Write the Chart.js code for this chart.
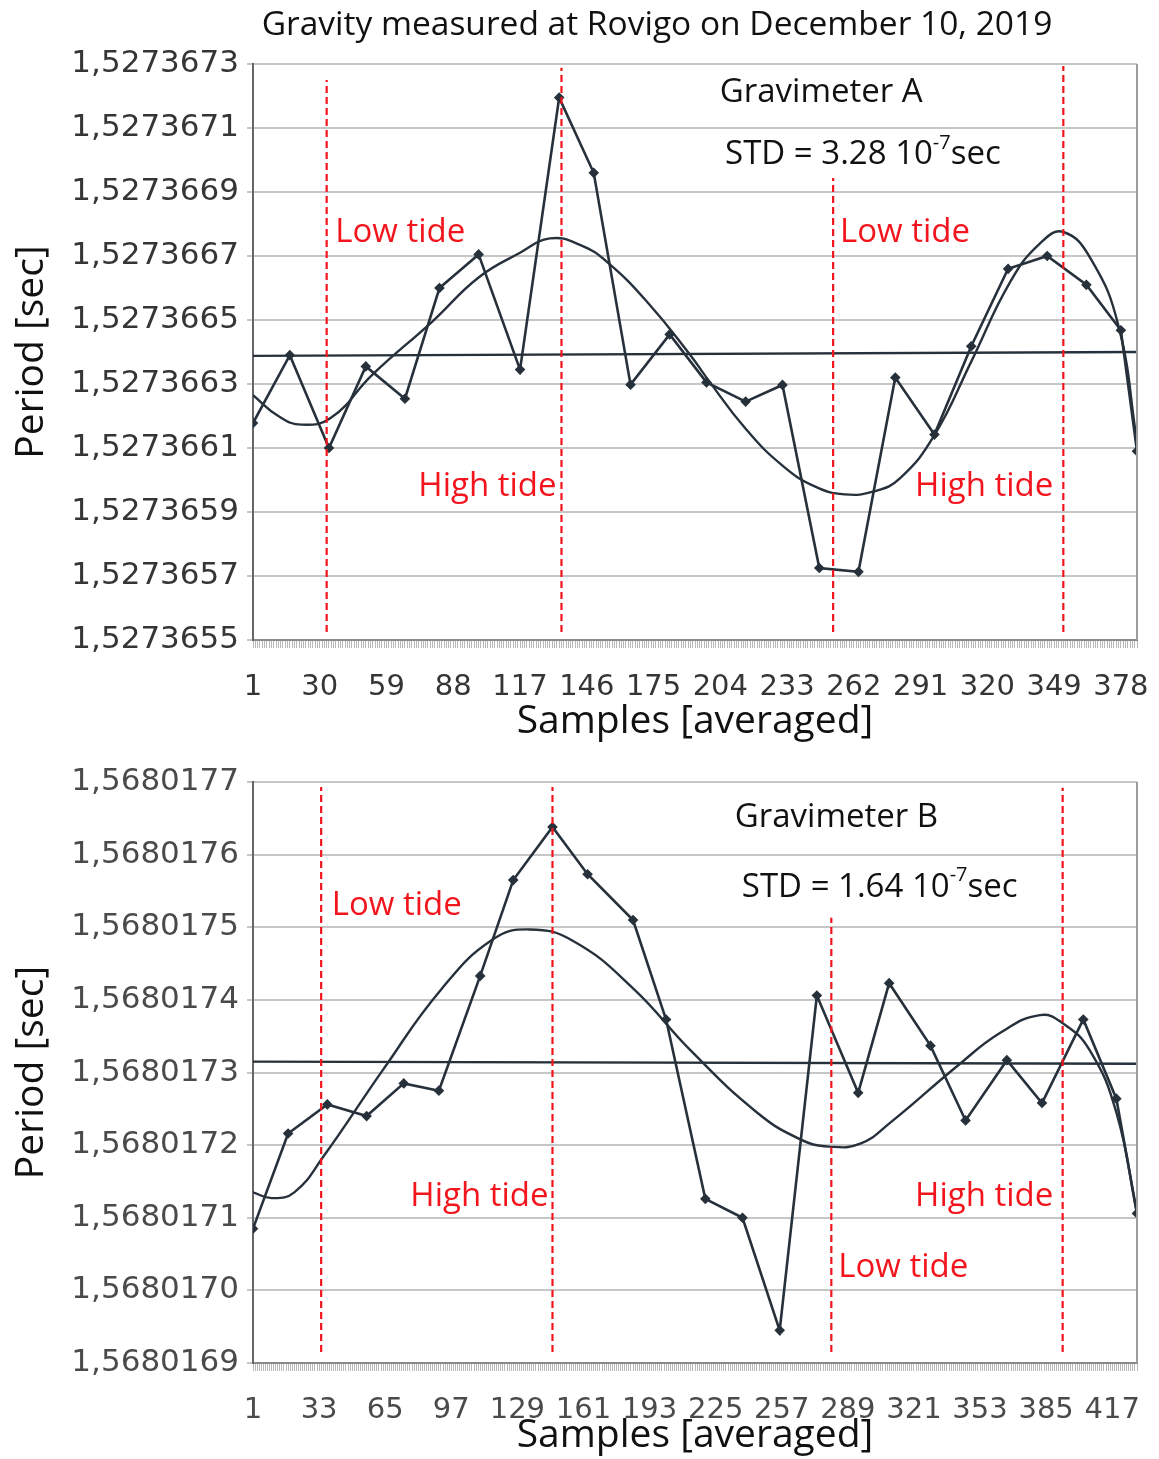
<!DOCTYPE html>
<html>
<head>
<meta charset="utf-8">
<title>Gravity measured at Rovigo</title>
<script src="https://cdn.jsdelivr.net/npm/chart.js@4.4.0/dist/chart.umd.min.js"></script>
<style>
  html, body { margin: 0; padding: 0; background: #fff; }
  .panel { position: absolute; left: 0; width: 1159px; }
  #panelA { top: 0; height: 745px; }
  #panelB { top: 745px; height: 714px; }
</style>
</head>
<body>
<div class="panel" id="panelA"><canvas id="chartA"></canvas></div>
<div class="panel" id="panelB"><canvas id="chartB"></canvas></div>
<script>
/* ---------- Gravimeter A (top panel) ---------- */
const A_SAMPLES = [1, 17, 34, 50, 67, 82, 99, 117, 134, 149, 165, 182, 198, 215, 231, 247, 264, 280, 297, 313, 329, 346, 363, 378, 385];
const A_PERIOD = [1.527366178, 1.52736639, 1.5273661, 1.527366355, 1.527366254, 1.5273666, 1.527366705, 1.527366345,
                  1.527367195, 1.52736696, 1.527366298, 1.527366455, 1.527366305, 1.527366245, 1.527366297, 1.527365725,
                  1.527365713, 1.52736632, 1.527366142, 1.527366418, 1.52736666, 1.5273667, 1.52736661, 1.527366468, 1.52736609];
const A_FIT_SAMPLES = [1, 12, 22, 35, 53, 79, 99, 117, 130, 143, 155, 173, 191, 198, 215, 231, 245, 258,
                       271, 282, 297, 313, 330, 343, 353, 365, 377, 385];
const A_FIT_PERIOD = [1.527366265, 1.5273662, 1.527366173, 1.527366195, 1.52736633, 1.527366496, 1.527366633, 1.52736671,
                      1.527366755, 1.527366735, 1.52736668, 1.52736655, 1.52736639, 1.52736632, 1.52736616, 1.527366045,
                      1.52736598, 1.527365955, 1.527365965, 1.527366005, 1.52736614, 1.52736637, 1.52736662, 1.52736674,
                      1.527366775, 1.52736669, 1.52736648, 1.52736612];
const A_MEAN_SAMPLES = [1, 385];
const A_MEAN_PERIOD = [1.527366388, 1.5273664];
const A_TIDE_SAMPLES = [33, 135, 253, 353];
const A_TIDE_TOP = [1.52736725, 1.527367288, 1.527366944, 1.527367294];
const A_TIDE_BOTTOM = 1.527365525;
const A_X_TICKS = [1, 30, 59, 88, 117, 146, 175, 204, 233, 262, 291, 320, 349, 378];
const A_Y_TICKS = [1.5273655, 1.5273657, 1.5273659, 1.5273661, 1.5273663, 1.5273665, 1.5273667, 1.5273669, 1.5273671, 1.5273673];

/* ---------- Gravimeter B (bottom panel) ---------- */
const B_SAMPLES = [1, 18, 37, 56, 74, 91, 111, 127, 146, 163, 185, 201, 220, 238, 256, 274, 294, 309, 329, 346, 366, 383, 403, 419, 429];
const B_PERIOD = [1.568017085, 1.568017216, 1.568017256, 1.56801724, 1.568017285, 1.568017275, 1.568017433, 1.568017565,
                  1.568017638, 1.568017573, 1.56801751, 1.568017373, 1.568017126, 1.5680171, 1.568016945, 1.568017406,
                  1.568017272, 1.568017423, 1.568017337, 1.568017234, 1.568017317, 1.568017258, 1.568017373, 1.568017264, 1.568017106];
const B_FIT_SAMPLES = [1, 10, 21, 35, 64, 92, 117, 135, 156, 185, 213, 245, 266, 280, 295, 310, 342, 363, 382, 393, 406, 419, 429];
const B_FIT_PERIOD = [1.568017135, 1.568017127, 1.568017135, 1.568017184, 1.568017304, 1.568017414, 1.568017483, 1.568017497,
                      1.568017481, 1.568017416, 1.56801733, 1.568017245, 1.568017208, 1.568017198, 1.568017202, 1.568017232,
                      1.568017309, 1.568017355, 1.568017379, 1.568017368, 1.568017331, 1.568017245, 1.568017106];
const B_MEAN_SAMPLES = [1, 429];
const B_MEAN_PERIOD = [1.568017315, 1.568017312];
const B_TIDE_SAMPLES = [34, 146, 281, 393];
const B_TIDE_TOP = [1.568017693, 1.568017693, 1.568017513, 1.568017692];
const B_TIDE_BOTTOM = 1.568016915;
const B_X_TICKS = [1, 33, 65, 97, 129, 161, 193, 225, 257, 289, 321, 353, 385, 417];
const B_Y_TICKS = [1.5680169, 1.568017, 1.5680171, 1.5680172, 1.5680173, 1.5680174, 1.5680175, 1.5680176, 1.5680177];

const INK = '#27313b';
const RED = '#f2151d';
const TEXT_FONT = "'Open Sans', sans-serif";
const TICK_FONT = "'DejaVu Sans', sans-serif";

// draws the right frame edge, the in-plot notes and the page heading
const overlayPlugin = {
  id: 'overlay',
  afterDatasetsDraw(chart, args, opts) {
    const { ctx, chartArea: a } = chart;
    ctx.save();
    ctx.strokeStyle = '#9d9d9d';
    ctx.lineWidth = 2;
    ctx.beginPath();
    ctx.moveTo(a.right, a.top);
    ctx.lineTo(a.right, a.bottom);
    ctx.stroke();

    ctx.textBaseline = 'middle';
    ctx.textAlign = 'left';
    (opts.notes || []).forEach(n => {
      const x = a.left + n.fx * (a.right - a.left);
      const y = a.top + n.fy * (a.bottom - a.top);
      ctx.fillStyle = n.color;
      ctx.font = `${n.size}px ${TEXT_FONT}`;
      ctx.fillText(n.text, x, y);
      if (n.sup) {
        let cx = x + ctx.measureText(n.text).width;
        ctx.font = `${Math.round(n.size * 0.6)}px ${TEXT_FONT}`;
        ctx.fillText(n.sup, cx, y - n.size * 0.36);
        cx += ctx.measureText(n.sup).width;
        ctx.font = `${n.size}px ${TEXT_FONT}`;
        ctx.fillText(n.tail, cx, y);
      }
    });

    if (opts.heading) {
      const h = opts.heading;
      ctx.textAlign = 'center';
      ctx.fillStyle = '#111';
      ctx.font = `${h.size}px ${TEXT_FONT}`;
      ctx.fillText(h.text, h.x, h.y);
    }
    ctx.restore();
  }
};

function tideDatasets(samples, tops, bottom) {
  return samples.map((s, i) => ({
    data: [{ x: s, y: bottom }, { x: s, y: tops[i] }],
    borderColor: RED,
    borderWidth: 2.2,
    borderDash: [7, 4],
    pointRadius: 0,
    fill: false
  }));
}

function makeChart(canvasId, p) {
  const datasets = [
    ...tideDatasets(p.tideSamples, p.tideTop, p.tideBottom),
    {
      data: p.samples.map((s, i) => ({ x: s, y: p.period[i] })),
      borderColor: INK,
      backgroundColor: INK,
      borderWidth: 2.6,
      pointStyle: 'rectRot',
      pointRadius: 3.5,
      tension: 0
    },
    {
      data: p.fitSamples.map((s, i) => ({ x: s, y: p.fitPeriod[i] })),
      borderColor: INK,
      borderWidth: 2.4,
      pointRadius: 0,
      tension: 0.45
    },
    {
      data: p.meanSamples.map((s, i) => ({ x: s, y: p.meanPeriod[i] })),
      borderColor: INK,
      borderWidth: 2.4,
      pointRadius: 0
    }
  ];

  return new Chart(document.getElementById(canvasId), {
    type: 'line',
    data: { datasets },
    plugins: [overlayPlugin],
    options: {
      responsive: true,
      maintainAspectRatio: false,
      animation: false,
      layout: { padding: { top: p.padTop, right: 22, left: 0, bottom: 0 } },
      plugins: {
        legend: { display: false },
        tooltip: { enabled: false },
        overlay: { notes: p.notes, heading: p.heading }
      },
      scales: {
        x: {
          type: 'linear',
          min: p.xMin,
          max: p.xMax,
          afterBuildTicks: scale => {
            // one tick per sample gives the hatched band under the axis
            const t = [];
            for (let s = p.xMin; s <= p.xMax; s++) t.push({ value: s });
            scale.ticks = t;
          },
          afterFit: scale => { scale.height = p.xAxisHeight; },
          ticks: {
            autoSkip: false,
            maxRotation: 0,
            padding: 22,
            color: p.tickColor,
            font: { family: TICK_FONT, size: 29 },
            callback: v => (p.xTicks.includes(v) ? String(v) : '')
          },
          grid: { drawOnChartArea: false, tickLength: 8, color: '#b9b9b9', lineWidth: 1 },
          border: { color: '#8a8a8a', width: 2 },
          title: {
            display: true,
            text: 'Samples [averaged]',
            color: '#111',
            font: { family: TEXT_FONT, size: 39 },
            padding: { top: 0, bottom: 0 }
          }
        },
        y: {
          type: 'linear',
          min: p.yTicks[0],
          max: p.yTicks[p.yTicks.length - 1],
          afterBuildTicks: scale => { scale.ticks = p.yTicks.map(v => ({ value: v })); },
          afterFit: scale => { scale.width = 253; },
          ticks: {
            padding: 8,
            color: p.tickColor,
            font: { family: TICK_FONT, size: 31 },
            callback: v => v.toFixed(7).replace('.', ',')
          },
          grid: { color: '#c6c6c6', lineWidth: 2, tickLength: 6 },
          border: { color: '#666', width: 2 },
          title: {
            display: true,
            text: 'Period [sec]',
            color: '#111',
            font: { family: TEXT_FONT, size: 39 },
            padding: { top: 8, bottom: 0 }
          }
        }
      }
    }
  });
}

makeChart('chartA', {
  samples: A_SAMPLES, period: A_PERIOD,
  fitSamples: A_FIT_SAMPLES, fitPeriod: A_FIT_PERIOD,
  meanSamples: A_MEAN_SAMPLES, meanPeriod: A_MEAN_PERIOD,
  tideSamples: A_TIDE_SAMPLES, tideTop: A_TIDE_TOP, tideBottom: A_TIDE_BOTTOM,
  xTicks: A_X_TICKS, yTicks: A_Y_TICKS,
  xMin: 1, xMax: 385,
  padTop: 64, xAxisHeight: 105,
  tickColor: '#353535',
  heading: { text: 'Gravity measured at Rovigo on December 10, 2019', x: 657, y: 25, size: 33.5 },
  notes: [
    { text: 'Gravimeter A', fx: 0.528, fy: 0.050, color: '#111', size: 33 },
    { text: 'STD = 3.28 10', sup: '-7', tail: 'sec', fx: 0.534, fy: 0.158, color: '#111', size: 33 },
    { text: 'Low tide', fx: 0.093, fy: 0.292, color: RED, size: 33 },
    { text: 'High tide', fx: 0.187, fy: 0.734, color: RED, size: 33 },
    { text: 'Low tide', fx: 0.664, fy: 0.292, color: RED, size: 33 },
    { text: 'High tide', fx: 0.749, fy: 0.734, color: RED, size: 33 }
  ]
});

makeChart('chartB', {
  samples: B_SAMPLES, period: B_PERIOD,
  fitSamples: B_FIT_SAMPLES, fitPeriod: B_FIT_PERIOD,
  meanSamples: B_MEAN_SAMPLES, meanPeriod: B_MEAN_PERIOD,
  tideSamples: B_TIDE_SAMPLES, tideTop: B_TIDE_TOP, tideBottom: B_TIDE_BOTTOM,
  xTicks: B_X_TICKS, yTicks: B_Y_TICKS,
  xMin: 1, xMax: 429,
  padTop: 37, xAxisHeight: 96,
  tickColor: '#4a4a4a',
  notes: [
    { text: 'Gravimeter B', fx: 0.545, fy: 0.062, color: '#111', size: 33 },
    { text: 'STD = 1.64 10', sup: '-7', tail: 'sec', fx: 0.553, fy: 0.181, color: '#111', size: 33 },
    { text: 'Low tide', fx: 0.089, fy: 0.213, color: RED, size: 33 },
    { text: 'High tide', fx: 0.178, fy: 0.714, color: RED, size: 33 },
    { text: 'High tide', fx: 0.749, fy: 0.714, color: RED, size: 33 },
    { text: 'Low tide', fx: 0.662, fy: 0.836, color: RED, size: 33 }
  ]
});
</script>
</body>
</html>
